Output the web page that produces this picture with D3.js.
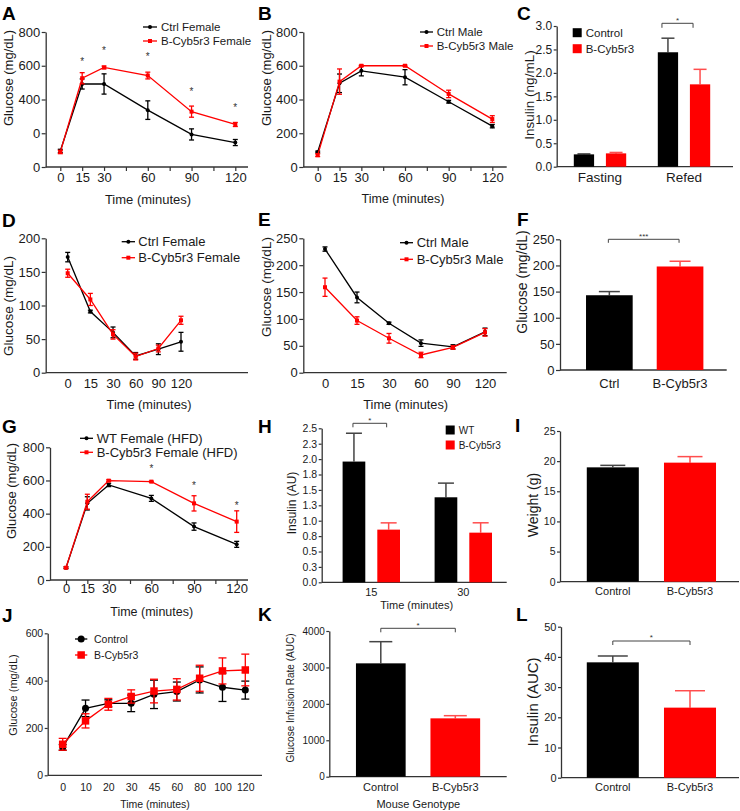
<!DOCTYPE html>
<html><head><meta charset="utf-8">
<script src="https://cdn.jsdelivr.net/npm/d3@7"></script>
<style>
body{margin:0;background:#fff;}
svg{display:block;}
</style></head><body>
<svg id="c" width="740" height="811"></svg>
<script>
// ================= DATA =================
const timeGTT = [0,15,30,60,90,120];
const timeGTTLabels = ["0","15","30","60","90","120"];
const timeGTTAllTicks = [0,15,30,45,60,75,90,105,120];

// A – GTT females
const aYTicks = [0,200,400,600,800];
const aYLabels = ["0","0","400","600","800"];
const aCtrlFemale = [95,492,492,337,193,145];
const aCtrlFemaleErr = [10,30,60,55,33,18];
const aCybFemale = [89,526,590,542,328,252];
const aCybFemaleErr = [10,33,8,20,33,12];
const aStarTimes = [15,30,60,90,120];
const aStarLevels = [640,705,664,462,367];

// B – GTT males
const bYTicks = [0,200,400,600,800];
const bYLabels = ["0","200","400","600","800"];
const bCtrlMale = [89,496,570,532,387,242];
const bCtrlMaleErr = [5,55,30,45,8,10];
const bCybMale = [70,506,600,600,433,284];
const bCybMaleErr = [8,75,4,4,22,20];

// C – insulin fasting / refed
const cGroups = ["Fasting","Refed"];
const cSeries = ["Control","B-Cyb5r3"];
const cControl = [0.263,2.44];
const cControlErr = [0.01,0.30];
const cCyb = [0.284,1.756];
const cCybErr = [0.02,0.32];
const cYTicks = [0,0.5,1,1.5,2,2.5,3];
const cYLabels = ["0.0","0.5","1.0","1.5","2.0","2.5","3.0"];

// D – ITT females
const dCtrlFemale = [172,91,60,25,35,46];
const dCtrlFemaleErr = [7,2,8,5,8,14];
const dCybFemale = [148,109,57,24,36,78];
const dCybFemaleErr = [6,9,7,5,5,6];
const dYTicks = [0,50,100,150,200];

// E – ITT males
const eCtrlMale = [230,140,92,55,48,76];
const eCtrlMaleErr = [4,10,2,6,4,7];
const eCybMale = [159,97,64,33,47,75];
const eCybMaleErr = [17,7,9,5,3,7];
const eYTicks = [0,50,100,150,200,250];

// F – fasting glucose
const fCats = ["Ctrl","B-Cyb5r3"];
const fVals = [143,198];
const fErr = [7,10];
const fYTicks = [0,50,100,150,200,250];

// G – GTT HFD females
const gWT = [74,462,573,492,322,215];
const gWTErr = [5,40,10,18,22,18];
const gCyb = [74,472,599,593,462,352];
const gCybErr = [5,45,5,3,46,65];
const gYTicks = [0,200,400,600,800];
const gStarTimes = [60,90,120];
const gStarLevels = [687,579,464];

// H – insulin during GTT
const hGroups = ["15","30"];
const hSeries = ["WT","B-Cyb5r3"];
const hWT = [1.96,1.38];
const hWTErr = [0.46,0.23];
const hCyb = [0.855,0.806];
const hCybErr = [0.11,0.16];
const hYTicks = [0,0.25,0.5,0.75,1,1.25,1.5,1.75,2,2.25,2.5];
const hYLabels = ["0.0","0.3","0.5","0.8","1.0","1.3","1.5","1.8","2.0","2.3","2.5"];

// I – weight
const iCats = ["Control","B-Cyb5r3"];
const iVals = [18.97,19.75];
const iErr = [0.33,1.0];
const iYTicks = [0,5,10,15,20,25];

// J – clamp glucose
const jTimes = ["0","10","20","30","45","60","80","100","120"];
const jControl = [118,283,304,304,342,354,403,372,360];
const jControlErr = [12,35,15,35,60,40,55,60,38];
const jCyb = [131,230,300,333,356,363,410,441,445];
const jCybErr = [25,30,25,28,50,45,55,55,67];
const jYTicks = [0,200,400,600];

// K – glucose infusion rate
const kCats = ["Control","B-Cyb5r3"];
const kVals = [3112,1602];
const kErr = [595,73];
const kYTicks = [0,1000,2000,3000,4000];

// L – insulin AUC
const lCats = ["Control","B-Cyb5r3"];
const lVals = [38.2,23.2];
const lErr = [2.1,5.6];
const lYTicks = [0,10,20,30,40,50];

// ================= DRAWING =================
const FONT = '"Liberation Sans", Arial, Helvetica, sans-serif';
const AX = "#333";
const RED = "#ff0000";
const svg = d3.select("#c");

function txt(x, y, s, fs, o = {}) {
  const t = svg.append("text").attr("x", x).attr("y", y).attr("dy", "0.35em")
    .attr("font-family", FONT).attr("font-size", fs).attr("fill", o.fill || "#1a1a1a")
    .attr("text-anchor", o.anchor || "middle").text(s);
  if (o.bold) t.attr("font-weight", "bold");
  if (o.rotate) t.attr("transform", `rotate(-90,${x},${y})`);
  return t;
}
function letter(x, y, s) { txt(x, y, s, 19, {anchor: "start", bold: true, fill: "#000"}); }

function styleAxis(g, fs) {
  g.attr("font-family", FONT).attr("font-size", fs);
  g.select(".domain").attr("stroke", AX).attr("stroke-width", 1.3);
  g.selectAll(".tick line").attr("stroke", AX).attr("stroke-width", 1.2);
  g.selectAll(".tick text").attr("fill", "#1a1a1a");
}
function yAxis(y, axisX, ticks, labels, fs, tickLen = 4) {
  const g = svg.append("g").attr("transform", `translate(${axisX},0)`);
  g.call(d3.axisLeft(y).tickValues(ticks).tickFormat((d, i) => labels ? labels[i] : d)
    .tickSize(tickLen).tickSizeOuter(0).tickPadding(1.5));
  styleAxis(g, fs);
}
function xAxis(x, axisX, axisY, axisRight, tickVals, fmt, fs, tickLen, labelOff) {
  svg.append("line").attr("x1", axisX).attr("x2", axisRight).attr("y1", axisY).attr("y2", axisY)
    .attr("stroke", AX).attr("stroke-width", 1.3);
  const ax = d3.axisBottom(x).tickSize(tickLen).tickSizeOuter(0);
  if (tickVals) ax.tickValues(tickVals);
  if (fmt) ax.tickFormat(fmt);
  const g = svg.append("g").attr("transform", `translate(0,${axisY})`).call(ax);
  g.select(".domain").remove();
  styleAxis(g, fs);
  g.selectAll(".tick text").attr("y", labelOff).attr("dy", "0.35em");
  if (!tickLen) g.selectAll(".tick line").remove();
}

function series(x, y, xs, vals, errs, color, marker, ms, capW, lw) {
  const pts = xs.map((t, i) => ({t, v: vals[i], e: errs[i]}));
  const g = svg.append("g");
  const eb = g.selectAll(".eb").data(pts).enter().append("g");
  eb.append("line").attr("x1", p => x(p.t)).attr("x2", p => x(p.t))
    .attr("y1", p => y(p.v + p.e)).attr("y2", p => y(p.v - p.e))
    .attr("stroke", color).attr("stroke-width", lw);
  [1, -1].forEach(s => eb.append("line").attr("x1", p => x(p.t) - capW / 2).attr("x2", p => x(p.t) + capW / 2)
    .attr("y1", p => y(p.v + s * p.e)).attr("y2", p => y(p.v + s * p.e))
    .attr("stroke", color).attr("stroke-width", lw));
  g.append("path").datum(pts).attr("d", d3.line().x(p => x(p.t)).y(p => y(p.v)))
    .attr("fill", "none").attr("stroke", color).attr("stroke-width", lw);
  if (marker === "circle") {
    g.selectAll(".m").data(pts).enter().append("circle").attr("cx", p => x(p.t)).attr("cy", p => y(p.v))
      .attr("r", ms / 2).attr("fill", color);
  } else {
    g.selectAll(".m").data(pts).enter().append("rect").attr("x", p => x(p.t) - ms / 2).attr("y", p => y(p.v) - ms / 2)
      .attr("width", ms).attr("height", ms).attr("fill", color);
  }
}
function legendLine(x1, x2, tx, yc, label, color, marker, ms, fs, lw) {
  svg.append("line").attr("x1", x1).attr("x2", x2).attr("y1", yc).attr("y2", yc).attr("stroke", color).attr("stroke-width", lw);
  const cx = (x1 + x2) / 2;
  if (marker === "circle") svg.append("circle").attr("cx", cx).attr("cy", yc).attr("r", ms / 2).attr("fill", color);
  else svg.append("rect").attr("x", cx - ms / 2).attr("y", yc - ms / 2).attr("width", ms).attr("height", ms).attr("fill", color);
  txt(tx, yc, label, fs, {anchor: "start"});
}
function legendBox(x, yc, size, label, color, fs, gap) {
  svg.append("rect").attr("x", x).attr("y", yc - size / 2).attr("width", size).attr("height", size).attr("fill", color);
  txt(x + size + gap, yc, label, fs, {anchor: "start"});
}
function star(x, yc, s, fs) {
  svg.append("text").attr("x", x).attr("y", yc + fs * 0.55).attr("text-anchor", "middle")
    .attr("font-family", FONT).attr("font-size", fs).attr("fill", "#333").text(s);
}
function bracket(x1, x2, yTop, leg, s, fs) {
  svg.append("path").attr("d", `M${x1},${yTop + leg}V${yTop}H${x2}V${yTop + leg}`)
    .attr("fill", "none").attr("stroke", "#444").attr("stroke-width", 1);
  star((x1 + x2) / 2, yTop - 5, s, fs);
}
// bars: centres given by function xc(i) over the value arrays
function barSet(xc, bw, y, vals, errs, color, errColor, capW) {
  const g = svg.append("g");
  const d = vals.map((v, i) => ({i, v, e: errs[i]}));
  g.selectAll(".el").data(d).enter().append("line")
    .attr("x1", p => xc(p.i)).attr("x2", p => xc(p.i)).attr("y1", p => y(p.v)).attr("y2", p => y(p.v + p.e))
    .attr("stroke", errColor).attr("stroke-width", 1.5);
  g.selectAll(".ec").data(d).enter().append("line")
    .attr("x1", p => xc(p.i) - capW / 2).attr("x2", p => xc(p.i) + capW / 2).attr("y1", p => y(p.v + p.e)).attr("y2", p => y(p.v + p.e))
    .attr("stroke", errColor).attr("stroke-width", 1.5);
  g.selectAll("rect").data(d).enter().append("rect")
    .attr("x", p => xc(p.i) - bw / 2).attr("width", bw)
    .attr("y", p => y(p.v)).attr("height", p => y(0) - y(p.v)).attr("fill", color);
}
// two-bar chart: first bar black, second red
function twoBars(x, cats, y, vals, errs, capW) {
  const bw = x.bandwidth();
  const xc = i => x(cats[i]) + bw / 2;
  barSet(i => xc(0), bw, y, [vals[0]], [errs[0]], "#000", "#444", capW);
  barSet(i => xc(1), bw, y, [vals[1]], [errs[1]], RED, "#ff4d4d", capW);
  return xc;
}

// ---------- Panel A ----------
(function () {
  const y = d3.scaleLinear().domain([0, 800]).range([167, 32]);
  const x = d3.scaleLinear().domain([0, 120]).range([60.3, 235.3]);
  letter(2, 13, "A");
  yAxis(y, 45.7, aYTicks, aYLabels, 13);
  xAxis(x, 45.7, 167, 248, timeGTTAllTicks, d => timeGTT.includes(d) ? timeGTTLabels[timeGTT.indexOf(d)] : "", 13, 4, 10);
  txt(8, 78, "Glucose (mg/dL)", 13, {rotate: true});
  txt(148, 199, "Time  (minutes)", 13);
  series(x, y, timeGTT, aCtrlFemale, aCtrlFemaleErr, "#000", "circle", 4, 5, 1.3);
  series(x, y, timeGTT, aCybFemale, aCybFemaleErr, RED, "square", 4, 5, 1.3);
  aStarTimes.forEach((t, i) => star(x(t), y(aStarLevels[i]), "*", 10));
  legendLine(143, 157, 161, 27, "Ctrl Female", "#000", "circle", 4, 11.5, 1.3);
  legendLine(143, 157, 161, 41, "B-Cyb5r3 Female", RED, "square", 4, 11.5, 1.3);
})();

// ---------- Panel B ----------
(function () {
  const y = d3.scaleLinear().domain([0, 800]).range([167, 32]);
  const x = d3.scaleLinear().domain([0, 120]).range([317.7, 492.3]);
  letter(258, 13, "B");
  yAxis(y, 303.3, bYTicks, bYLabels, 13);
  xAxis(x, 303.3, 167, 506.7, timeGTTAllTicks, d => timeGTT.includes(d) ? timeGTTLabels[timeGTT.indexOf(d)] : "", 13, 4, 10);
  txt(266.7, 78, "Glucose (mg/dL)", 13, {rotate: true});
  txt(403, 199, "Time (minutes)", 12.5);
  series(x, y, timeGTT, bCtrlMale, bCtrlMaleErr, "#000", "circle", 4, 5, 1.3);
  series(x, y, timeGTT, bCybMale, bCybMaleErr, RED, "square", 4, 5, 1.3);
  legendLine(420, 433, 436.7, 32, "Ctrl Male", "#000", "circle", 4, 11.5, 1.3);
  legendLine(420, 433, 436.7, 46, "B-Cyb5r3 Male", RED, "square", 4, 11.5, 1.3);
})();

// ---------- Panel C ----------
(function () {
  const y = d3.scaleLinear().domain([0, 3]).range([166.7, 26]);
  const x0 = d3.scaleBand().domain(cGroups).range([558, 726]);
  const x1 = d3.scaleBand().domain(cSeries).range([-26.2, 26.2]).paddingInner(0.368);
  letter(517, 13, "C");
  yAxis(y, 556.7, cYTicks, cYLabels, 12, 3);
  xAxis(x0, 556.7, 166.7, 733, null, null, 13.5, 0, 11);
  txt(529, 95, "Insulin (ng/mL)", 13.5, {rotate: true});
  const bw = x1.bandwidth();
  const c = (g, s) => x0(cGroups[g]) + x0.bandwidth() / 2 + x1(s) + bw / 2;
  barSet(i => c(i, "Control"), bw, y, cControl, cControlErr, "#000", "#444", 13);
  barSet(i => c(i, "B-Cyb5r3"), bw, y, cCyb, cCybErr, RED, "#ff4d4d", 13);
  bracket(c(1, "Control") - 6, c(1, "B-Cyb5r3") - 7, 23.3, 4.5, "*", 8);
  legendBox(572.7, 32.7, 9, "Control", "#000", 11.5, 4);
  legendBox(572.7, 48.7, 9, "B-Cyb5r3", RED, 11.5, 4);
})();

// ---------- Panel D ----------
(function () {
  const y = d3.scaleLinear().domain([0, 200]).range([372.7, 238.3]);
  const x = d3.scalePoint().domain(timeGTTLabels).range([67.7, 181]);
  letter(2, 220, "D");
  yAxis(y, 45.7, dYTicks, null, 13);
  xAxis(x, 45.7, 372.7, 248, null, null, 13, 0, 10.6);
  txt(8, 306, "Glucose (mg/dL)", 13.5, {rotate: true});
  txt(149, 405, "Time (minutes)", 12.8);
  series(x, y, timeGTTLabels, dCtrlFemale, dCtrlFemaleErr, "#000", "circle", 4, 5, 1.3);
  series(x, y, timeGTTLabels, dCybFemale, dCybFemaleErr, RED, "square", 4, 5, 1.3);
  legendLine(121.7, 135, 138.3, 241.7, "Ctrl Female", "#000", "circle", 4, 13, 1.3);
  legendLine(121.7, 135, 138.3, 257.7, "B-Cyb5r3 Female", RED, "square", 4, 13, 1.3);
})();

// ---------- Panel E ----------
(function () {
  const y = d3.scaleLinear().domain([0, 250]).range([372.7, 238.3]);
  const x = d3.scalePoint().domain(timeGTTLabels).range([325, 485]);
  letter(258, 219, "E");
  yAxis(y, 303.3, eYTicks, null, 13);
  xAxis(x, 303.3, 372.7, 506.7, null, null, 13, 0, 10.6);
  txt(266.7, 287, "Glucose (mg/dL)", 13.5, {rotate: true});
  txt(405.7, 405, "Time (minutes)", 12.8);
  series(x, y, timeGTTLabels, eCtrlMale, eCtrlMaleErr, "#000", "circle", 4, 5, 1.3);
  series(x, y, timeGTTLabels, eCybMale, eCybMaleErr, RED, "square", 4, 5, 1.3);
  legendLine(400, 413, 416.7, 242.7, "Ctrl Male", "#000", "circle", 4, 13, 1.3);
  legendLine(400, 413, 416.7, 259.3, "B-Cyb5r3 Male", RED, "square", 4, 13, 1.3);
})();

// ---------- Panel F ----------
(function () {
  const y = d3.scaleLinear().domain([0, 250]).range([370, 239.3]);
  const x = d3.scaleBand().domain(fCats).range([574, 715.4]).paddingInner(0.34).paddingOuter(0.17);
  letter(517, 219, "F");
  yAxis(y, 560, fYTicks, null, 13);
  xAxis(x, 560, 370, 726.7, null, null, 13, 0, 13.3);
  txt(521.7, 282, "Glucose (mg/dL)", 14, {rotate: true});
  const xc = twoBars(x, fCats, y, fVals, fErr, 21);
  bracket(xc(0) - 1, xc(1) - 1, 239.3, 3.5, "***", 8);
})();

// ---------- Panel G ----------
(function () {
  const y = d3.scaleLinear().domain([0, 800]).range([580, 447.3]);
  const x = d3.scaleLinear().domain([0, 120]).range([66, 236.7]);
  letter(2, 426, "G");
  yAxis(y, 50, gYTicks, null, 13);
  xAxis(x, 50, 580, 248, timeGTTAllTicks, d => timeGTT.includes(d) ? timeGTTLabels[timeGTT.indexOf(d)] : "", 13, 4, 8.8);
  txt(11.7, 491, "Glucose (mg/dL)", 13, {rotate: true});
  txt(151.7, 611.7, "Time (minutes)", 12.5);
  series(x, y, timeGTT, gWT, gWTErr, "#000", "circle", 4, 5, 1.3);
  series(x, y, timeGTT, gCyb, gCybErr, RED, "square", 4, 5, 1.3);
  gStarTimes.forEach((t, i) => star(x(t), y(gStarLevels[i]), "*", 10));
  legendLine(80, 93, 96.7, 438.3, "WT Female (HFD)", "#000", "circle", 4, 13, 1.3);
  legendLine(80, 93, 96.7, 452.3, "B-Cyb5r3 Female (HFD)", RED, "square", 4, 13, 1.3);
})();

// ---------- Panel H ----------
(function () {
  const y = d3.scaleLinear().domain([0, 2.5]).range([582.3, 428.3]);
  const x0 = d3.scaleBand().domain(hGroups).range([325.3, 509.3]);
  const x1 = d3.scaleBand().domain(hSeries).range([-28.7, 28.7]).paddingInner(0.346);
  letter(258, 426, "H");
  yAxis(y, 321.7, hYTicks, hYLabels, 10.5, 3);
  xAxis(x0, 321.7, 582.3, 506.7, null, null, 11, 0, 9.4);
  txt(291.7, 503, "Insulin (AU)", 12, {rotate: true});
  txt(416.7, 605, "Time (minutes)", 11);
  const bw = x1.bandwidth();
  const c = (g, s) => x0(hGroups[g]) + x0.bandwidth() / 2 + x1(s) + bw / 2;
  barSet(i => c(i, "WT"), bw, y, hWT, hWTErr, "#000", "#444", 16);
  barSet(i => c(i, "B-Cyb5r3"), bw, y, hCyb, hCybErr, RED, "#ff4d4d", 16);
  bracket(c(0, "WT") - 1, c(0, "B-Cyb5r3") - 2, 423.3, 4, "*", 8);
  legendBox(445.7, 430, 9, "WT", "#000", 10, 4);
  legendBox(445.7, 445, 9, "B-Cyb5r3", RED, 10, 4);
})();

// ---------- Panel I ----------
(function () {
  const y = d3.scaleLinear().domain([0, 25]).range([581.7, 431]);
  const x = d3.scaleBand().domain(iCats).range([574.2, 728.6]).paddingInner(0.326).paddingOuter(0.163);
  letter(515, 425, "I");
  yAxis(y, 560, iYTicks, null, 10.5, 3);
  xAxis(x, 560, 581.7, 739, null, null, 11, 0, 9.3);
  txt(533.3, 505, "Weight (g)", 14, {rotate: true});
  twoBars(x, iCats, y, iVals, iErr, 25);
})();

// ---------- Panel J ----------
(function () {
  const y = d3.scaleLinear().domain([0, 600]).range([775.3, 633.3]);
  const x = d3.scalePoint().domain(jTimes).range([62.7, 245.3]);
  letter(2, 615, "J");
  yAxis(y, 47.7, jYTicks, null, 10.5, 3);
  xAxis(x, 47.7, 775.3, 262, null, null, 10.5, 0, 12.4);
  txt(13.3, 695, "Glucose (mg/dL)", 11, {rotate: true});
  txt(155, 804, "Time (minutes)", 10.5);
  series(x, y, jTimes, jControl, jControlErr, "#000", "circle", 7, 8, 1.3);
  series(x, y, jTimes, jCyb, jCybErr, RED, "square", 7.5, 8, 1.3);
  legendLine(75, 87.3, 94, 639, "Control", "#000", "circle", 7, 10.5, 1.3);
  legendLine(75, 87.3, 94, 655, "B-Cyb5r3", RED, "square", 7.5, 10.5, 1.3);
})();

// ---------- Panel K ----------
(function () {
  const y = d3.scaleLinear().domain([0, 4000]).range([776.7, 631]);
  const x = d3.scaleBand().domain(kCats).range([343.55, 492.55]).paddingInner(0.333).paddingOuter(0.1665);
  letter(258, 614, "K");
  yAxis(y, 329.3, kYTicks, null, 10, 3);
  xAxis(x, 329.3, 776.7, 506.7, null, null, 11, 0, 10);
  txt(290, 698, "Glucose Infusion Rate (AUC)", 10, {rotate: true});
  txt(418.3, 804.3, "Mouse Genotype", 11);
  const xc = twoBars(x, kCats, y, kVals, kErr, 23);
  bracket(xc(0), xc(1), 628.3, 4, "*", 8);
})();

// ---------- Panel L ----------
(function () {
  const y = d3.scaleLinear().domain([0, 50]).range([777.7, 626.7]);
  const x = d3.scaleBand().domain(lCats).range([574.2, 728.6]).paddingInner(0.326).paddingOuter(0.163);
  letter(516, 614, "L");
  yAxis(y, 561, lYTicks, null, 11, 3);
  xAxis(x, 561, 777.7, 739, null, null, 11, 0, 9.6);
  txt(532.3, 702, "Insulin (AUC)", 15, {rotate: true});
  const xc = twoBars(x, lCats, y, lVals, lErr, 30);
  bracket(xc(0), xc(1), 641, 4, "*", 8);
})();
</script>
</body></html>
